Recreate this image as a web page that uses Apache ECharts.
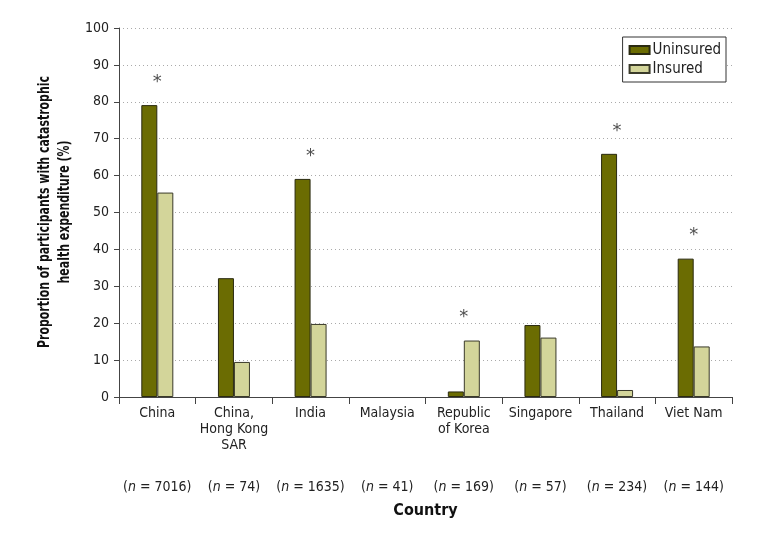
<!DOCTYPE html>
<html><head><meta charset="utf-8">
<script src="https://cdn.jsdelivr.net/npm/echarts@6/dist/echarts.min.js"></script>
<style>html,body{margin:0;padding:0;background:#fff}#c{width:771px;height:542px}</style>
</head><body><div id="c"></div>
<script>
var categories = ['China', 'China,\nHong Kong\nSAR', 'India', 'Malaysia', 'Republic\nof Korea', 'Singapore', 'Thailand', 'Viet Nam'];
var sampleN = [7016, 74, 1635, 41, 169, 57, 234, 144];
var uninsured = [79.1, 32.2, 59.1, null, 1.5, 19.5, 65.9, 37.5];
var insured = [55.4, 9.5, 19.8, null, 15.3, 16.1, 1.9, 13.7];
var asterisk = [86.3, null, 66.2, null, 22.8, null, 73.0, 44.9];
var yTicks = [0, 10, 20, 30, 40, 50, 60, 70, 80, 90, 100];
var yTitle = 'Proportion of participants with catastrophic\nhealth expenditure (%)';

var FONT = '"Liberation Sans Narrow", "DejaVu Sans Condensed", "Liberation Sans", sans-serif';
var chart = echarts.init(document.getElementById('c'), null, {renderer: 'canvas'});
chart.setOption({
  animation: false,
  textStyle: {fontFamily: FONT},
  grid: {left: 119, right: 39, top: 28, bottom: 145},
  legend: {
    data: ['Uninsured', 'Insured'],
    orient: 'vertical',
    right: 45, top: 37,
    icon: 'rect',
    itemWidth: 20, itemHeight: 8, itemGap: 1,
    padding: [4, 5, 4, 6],
    borderColor: '#333', borderWidth: 1, backgroundColor: '#fff', borderRadius: 0,
    textStyle: {fontFamily: FONT, fontSize: 15, color: '#222', lineHeight: 18, padding: [0, 0, 0, -2]}
  },
  graphic: [{
    type: 'text', x: 55, y: 212, rotation: Math.PI / 2, scaleX: 0.76, scaleY: 1,
    style: {text: yTitle, font: 'bold 16px ' + FONT, fill: '#111', align: 'center', verticalAlign: 'middle', lineHeight: 20}
  }],
  xAxis: [{
    type: 'category', data: categories, position: 'bottom',
    axisLine: {lineStyle: {color: '#444', width: 1}},
    axisTick: {show: true, length: 7, lineStyle: {color: '#444'}},
    axisLabel: {fontFamily: FONT, fontSize: 14, color: '#222', lineHeight: 16, margin: 8, interval: 0},
    splitLine: {show: false}
  }, {
    type: 'category', data: sampleN, position: 'bottom', offset: 83,
    axisLine: {show: false}, axisTick: {show: false},
    axisLabel: {
      interval: 0, margin: 0, fontSize: 14, color: '#222', fontFamily: FONT,
      formatter: function (v) { return '({i|n} = ' + v + ')'; },
      rich: {i: {fontStyle: 'italic', fontSize: 14, fontFamily: FONT, color: '#222'}}
    },
    name: 'Country', nameLocation: 'middle', nameGap: 23,
    nameTextStyle: {fontFamily: FONT, fontWeight: 'bold', fontSize: 16, color: '#111'}
  }],
  yAxis: {
    type: 'value', min: 0, max: 100, interval: 10,
    axisLine: {show: true, lineStyle: {color: '#444'}},
    axisTick: {show: true, length: 5, lineStyle: {color: '#444'}},
    axisLabel: {fontFamily: FONT, fontSize: 14, color: '#222', margin: 10,
      formatter: function (v) { return yTicks.indexOf(v) >= 0 ? String(v) : ''; }},
    splitLine: {show: true, lineStyle: {color: '#aaa', type: [1, 3], width: 1}}
  },
  series: [{
    name: 'Uninsured', type: 'bar', data: uninsured, barWidth: 16, barGap: '0%',
    itemStyle: {color: '#6b6c02', borderColor: '#2a2a10', borderWidth: 1}
  }, {
    name: 'Insured', type: 'bar', data: insured, barWidth: 16, barGap: '0%',
    itemStyle: {color: '#d3d59a', borderColor: '#3a3a2a', borderWidth: 1}
  }, {
    name: 'sig', type: 'scatter', data: asterisk, symbolSize: 0, silent: true,
    label: {show: true, position: 'inside', offset: [0, 4], formatter: '*', fontSize: 18, color: '#222', fontFamily: 'DejaVu Sans'}
  }]
});
</script></body></html>
